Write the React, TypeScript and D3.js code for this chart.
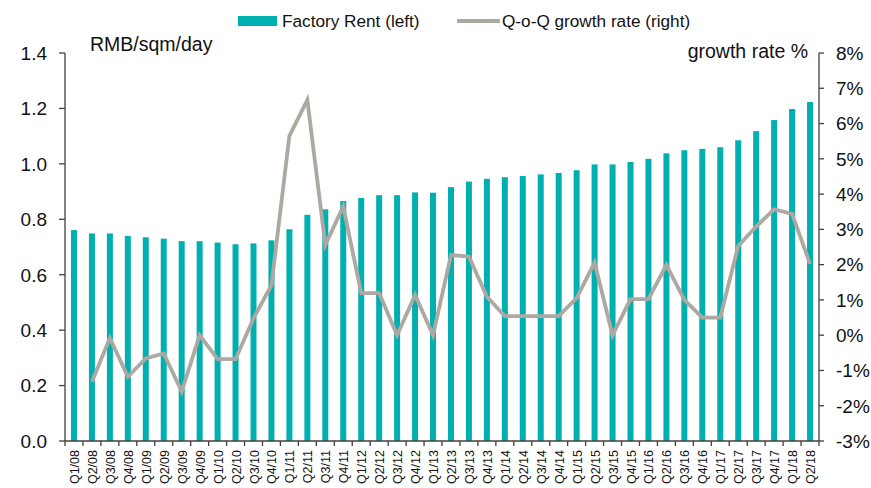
import React from "react";
import * as d3 from "d3";

const categories = [
  "Q1/08","Q2/08","Q3/08","Q4/08","Q1/09","Q2/09","Q3/09","Q4/09","Q1/10","Q2/10","Q3/10","Q4/10",
  "Q1/11","Q2/11","Q3/11","Q4/11","Q1/12","Q2/12","Q3/12","Q4/12","Q1/13","Q2/13","Q3/13","Q4/13",
  "Q1/14","Q2/14","Q3/14","Q4/14","Q1/15","Q2/15","Q3/15","Q4/15","Q1/16","Q2/16","Q3/16","Q4/16",
  "Q1/17","Q2/17","Q3/17","Q4/17","Q1/18","Q2/18",
];

const factoryRent = [
  0.761, 0.749, 0.749, 0.740, 0.735, 0.730, 0.721, 0.721, 0.716, 0.710, 0.713, 0.724,
  0.764, 0.816, 0.836, 0.866, 0.877, 0.887, 0.887, 0.897, 0.896, 0.916, 0.936, 0.946,
  0.952, 0.956, 0.962, 0.967, 0.977, 0.998, 0.998, 1.007, 1.018, 1.038, 1.049, 1.054,
  1.060, 1.085, 1.118, 1.158, 1.198, 1.223,
];

const growthRate: (number | null)[] = [
  null, -1.32, -0.08, -1.18, -0.66, -0.52, -1.6, 0.0, -0.68, -0.68, 0.48, 1.42,
  5.65, 6.67, 2.56, 3.65, 1.19, 1.19, 0.0, 1.14, 0.0, 2.27, 2.23, 1.09,
  0.54, 0.54, 0.54, 0.54, 1.05, 2.06, 0.0, 1.02, 1.02, 1.99, 1.0, 0.5,
  0.5, 2.53, 3.08, 3.57, 3.44, 2.02,
];

const leftTicks = [0, 0.2, 0.4, 0.6, 0.8, 1.0, 1.2, 1.4];
const rightTicks = [-3, -2, -1, 0, 1, 2, 3, 4, 5, 6, 7, 8];

const W = 871;
const H = 488;
const X0 = 65;
const X1 = 819;
const Y0 = 441;
const Y1 = 53;
const BAR = "#00B0B0";
const LINE = "#ADA9A2";
const AX = "#404040";
const FONT = "'Liberation Sans', Arial, sans-serif";

export default function App() {
  const x = d3.scaleBand<string>().domain(categories).range([X0, X1]);
  const yL = d3.scaleLinear().domain([0, 1.4]).range([Y0, Y1]);
  const yR = d3.scaleLinear().domain([-3, 8]).range([Y0, Y1]);
  const cx = (c: string) => (x(c) as number) + x.bandwidth() / 2;

  const lineGen = d3
    .line<number | null>()
    .defined((d) => d !== null)
    .x((_, i) => cx(categories[i]))
    .y((d) => yR(d as number));

  const barW = 6;

  return (
    <svg
      width={W}
      height={H}
      style={{ position: "absolute", left: 0, top: 0, background: "#fff" }}
      fontFamily={FONT}
    >
      {/* bars */}
      {factoryRent.map((v, i) => (
        <rect
          key={i}
          x={cx(categories[i]) - barW / 2}
          y={yL(v)}
          width={barW}
          height={Y0 - yL(v)}
          fill={BAR}
        />
      ))}
      {/* line */}
      <path
        d={lineGen(growthRate) || ""}
        fill="none"
        stroke={LINE}
        strokeWidth={3.8}
        strokeLinejoin="miter"
      />
      {/* left axis */}
      <line x1={X0} x2={X0} y1={Y1} y2={Y0} stroke={AX} strokeWidth={1.3} />
      {leftTicks.map((t) => (
        <g key={t}>
          <line x1={X0 - 6} x2={X0} y1={yL(t)} y2={yL(t)} stroke={AX} strokeWidth={1.3} />
          <text x={47} y={yL(t)} dy="0.36em" textAnchor="end" fontSize={19} fill="#111">
            {t.toFixed(1)}
          </text>
        </g>
      ))}
      {/* right axis */}
      <line x1={X1} x2={X1} y1={Y1} y2={Y0} stroke={AX} strokeWidth={1.3} />
      {rightTicks.map((t) => (
        <g key={t}>
          <line x1={X1} x2={X1 + 5} y1={yR(t)} y2={yR(t)} stroke={AX} strokeWidth={1.3} />
          <text x={836} y={yR(t)} dy="0.36em" textAnchor="start" fontSize={19} fill="#111">
            {`${t}%`}
          </text>
        </g>
      ))}
      {/* bottom axis */}
      <line x1={X0} x2={X1} y1={Y0} y2={Y0} stroke={AX} strokeWidth={1.3} />
      {categories.map((c) => (
        <g key={c}>
          <line
            x1={x(c) as number}
            x2={x(c) as number}
            y1={Y0}
            y2={Y0 + 5}
            stroke={AX}
            strokeWidth={1.3}
          />
          <text
            transform={`translate(${cx(c) + 5},${450}) rotate(-90)`}
            textAnchor="end"
            fontSize={12.5}
            fill="#111"
          >
            {c}
          </text>
        </g>
      ))}
      <line x1={X1} x2={X1} y1={Y0} y2={Y0 + 5} stroke={AX} strokeWidth={1.3} />
      {/* axis titles */}
      <text x={90} y={51} fontSize={19.5} fill="#111">RMB/sqm/day</text>
      <text x={808} y={58} fontSize={19.5} fill="#111" textAnchor="end">growth rate %</text>
      {/* legend */}
      <rect x={238} y={16} width={39} height={10} fill={BAR} />
      <text x={282} y={27} fontSize={17.2} fill="#111">Factory Rent (left)</text>
      <line x1={457} x2={500} y1={21} y2={21} stroke={LINE} strokeWidth={3.8} />
      <text x={502} y={27} fontSize={17.2} fill="#111">Q-o-Q growth rate (right)</text>
    </svg>
  );
}
